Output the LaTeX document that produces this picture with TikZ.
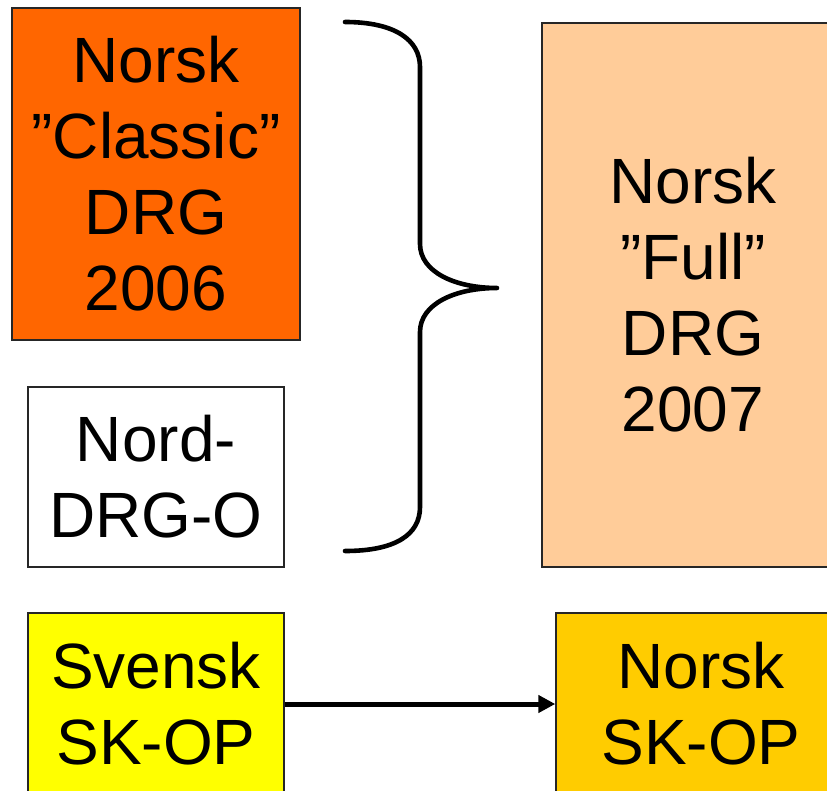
\documentclass[tikz,border=0pt]{standalone}
\usepackage{fontspec}
\setmainfont{Liberation Sans}
\usetikzlibrary{arrows.meta}
\definecolor{cOrange}{HTML}{FF6600}
\definecolor{cPeach}{HTML}{FFCC99}
\definecolor{cYellow}{HTML}{FFFF00}
\definecolor{cGold}{HTML}{FFCC00}
\tikzset{
  box/.style={draw=black!85, line width=1.4pt, rectangle, align=center, inner sep=0pt,
    font=\fontsize{64}{76}\selectfont, text=black},
  brace/.style={line width=4.6pt, line cap=round, line join=round},
  conn/.style={line width=5pt, -{Triangle[length=17pt,width=17pt]}}
}
\begin{document}
\begin{tikzpicture}[x=1pt,y=-1pt]
\useasboundingbox (0,0) rectangle (827,791);
\clip (0,0) rectangle (827,791);
\node[box, fill=cOrange, minimum width=288pt, minimum height=332pt] (classic) at (156,174) {Norsk\\”Classic”\\DRG\\2006};
\node[box, fill=white, minimum width=256pt, minimum height=180pt] (nord) at (156,477) {Nord-\\DRG-O};
\node[box, fill=cPeach, minimum width=302pt, minimum height=544pt] (full) at (693,295) {Norsk\\”Full”\\DRG\\2007};
\node[box, fill=cYellow, minimum width=256pt, minimum height=182pt] (svensk) at (156,704) {Svensk\\SK-OP};
\node[box, fill=cGold, minimum width=290pt, minimum height=182pt] (norskop) at (701,704) {Norsk\\SK-OP};
\coordinate (btop) at (345,22);
\coordinate (btip) at (497,288);
\coordinate (bbot) at (345,551);
\draw[brace] (btop) .. controls (395,22) and (420,40) .. (420,67)
  -- (420,244) .. controls (420,272) and (455,288) .. (btip)
  .. controls (455,288) and (420,304) .. (420,332)
  -- (420,507) .. controls (420,535) and (395,551) .. (bbot);
\draw[conn] (svensk.east) -- (norskop.west);
\end{tikzpicture}
\end{document}
